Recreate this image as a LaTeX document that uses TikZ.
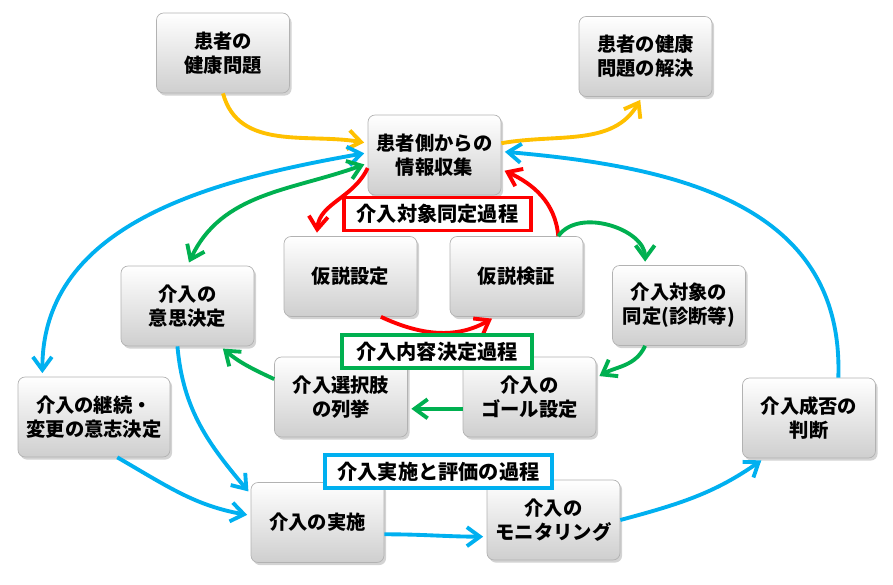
\documentclass[tikz,border=0pt]{standalone}
\usepackage{fontspec}
\newfontfamily\jp{Noto Sans CJK JP}
\usetikzlibrary{arrows.meta,shadows}

\definecolor{kiiro}{HTML}{FFC000}
\definecolor{ao}{HTML}{00B0F0}
\definecolor{midori}{HTML}{00B050}
\definecolor{aka}{HTML}{FF0000}

\begin{document}
\begin{tikzpicture}[x=0.02cm, y=-0.02cm,
  box/.style={draw=gray!60, rounded corners=4pt, top color=white, bottom color=gray!38,
    drop shadow={opacity=.35, shadow xshift=1.2pt, shadow yshift=-1.5pt},
    minimum width=2.66cm, minimum height=1.6cm, align=center, inner sep=2pt,
    font=\jp\bfseries\fontsize{11}{13.5}\selectfont},
  proc/.style={draw, line width=1.8pt, fill=white, minimum height=0.66cm, inner sep=0pt,
    font=\jp\bfseries\fontsize{11.5}{13}\selectfont},
  flow/.style={line width=2.2pt, shorten >=2pt, -{Straight Barb[length=2.6mm,width=3.8mm]}},
  both/.style={flow, shorten <=2pt, {Straight Barb[length=2.6mm,width=3.8mm]}-{Straight Barb[length=2.6mm,width=3.8mm]}}]

\useasboundingbox (0,0) rectangle (893,585);

% boxes
\node[box] (prob) at (223,53) {患者の\\健康問題};
\node[box] (info) at (434.5,155) {患者側からの\\情報収集};
\node[box] (solve) at (645.5,56.5) {患者の健康\\問題の解決};
\node[box] (hypset) at (350.5,276.5) {仮説設定};
\node[box] (hypver) at (516.5,276.5) {仮説検証};
\node[box] (ident) at (679,305.5) {介入対象の\\同定(診断等)};
\node[box] (decide) at (187.5,306) {介入の\\意思決定};
\node[box] (options) at (341,397) {介入選択肢\\の列挙};
\node[box] (goal) at (529.5,397) {介入の\\ゴール設定};
\node[box, minimum width=3.04cm] (cont) at (94,417) {介入の継続・\\変更の意志決定};
\node[box] (impl) at (317.5,522.5) {介入の実施};
\node[box] (monit) at (553.5,520) {介入の\\モニタリング};
\node[box] (judge) at (809,418) {介入成否の\\判断};

% arrows
\draw[flow, kiiro] (prob.south) to[out=-75, in=170] (info.170);
\draw[flow, kiiro] (info.10) to[out=10, in=-120] (solve.265);
\draw[both, ao] (info.178) to[out=190, in=90] (cont.142);
\draw[both, midori] (info.187) to[out=200, in=65] (decide.north);
\draw[flow, aka] (info.191) to[out=245, in=85] (hypset.130);
\draw[flow, aka] (hypset.-53) to[out=-25, in=-150] (hypver.242);
\draw[flow, aka] (hypver.44) to[out=95, in=-25] (info.-12);
\draw[flow, midori] (hypver.44) to[out=55, in=90] (ident.130);
\draw[flow, midori] (ident.230) to[out=-115, in=30] (goal.16);
\draw[flow, midori] (goal.190) -- (options.-10);
\draw[flow, midori] (options.165) to[out=155, in=-40] (decide.-51);
\draw[flow, ao] (decide.256) to[out=-85, in=130] (impl.157);
\draw[flow, ao] (cont.-60) to[out=-30, in=170] (impl.174);
\draw[flow, ao] (impl.-10) to[out=0, in=180] (monit.194);
\draw[flow, ao] (monit.east) to[out=15, in=-145] (judge.222);
\draw[flow, ao] (judge.54) to[out=88, in=-5, looseness=1.1] (info.3);

% process labels
\node[proc, draw=aka, minimum width=3.74cm] (procA) at (437.5,214) {介入対象同定過程};
\node[proc, draw=midori, minimum width=3.8cm] (procB) at (437,351.5) {介入内容決定過程};
\node[proc, draw=ao, minimum width=4.54cm] (procC) at (438.5,471.5) {介入実施と評価の過程};

\end{tikzpicture}
\end{document}
